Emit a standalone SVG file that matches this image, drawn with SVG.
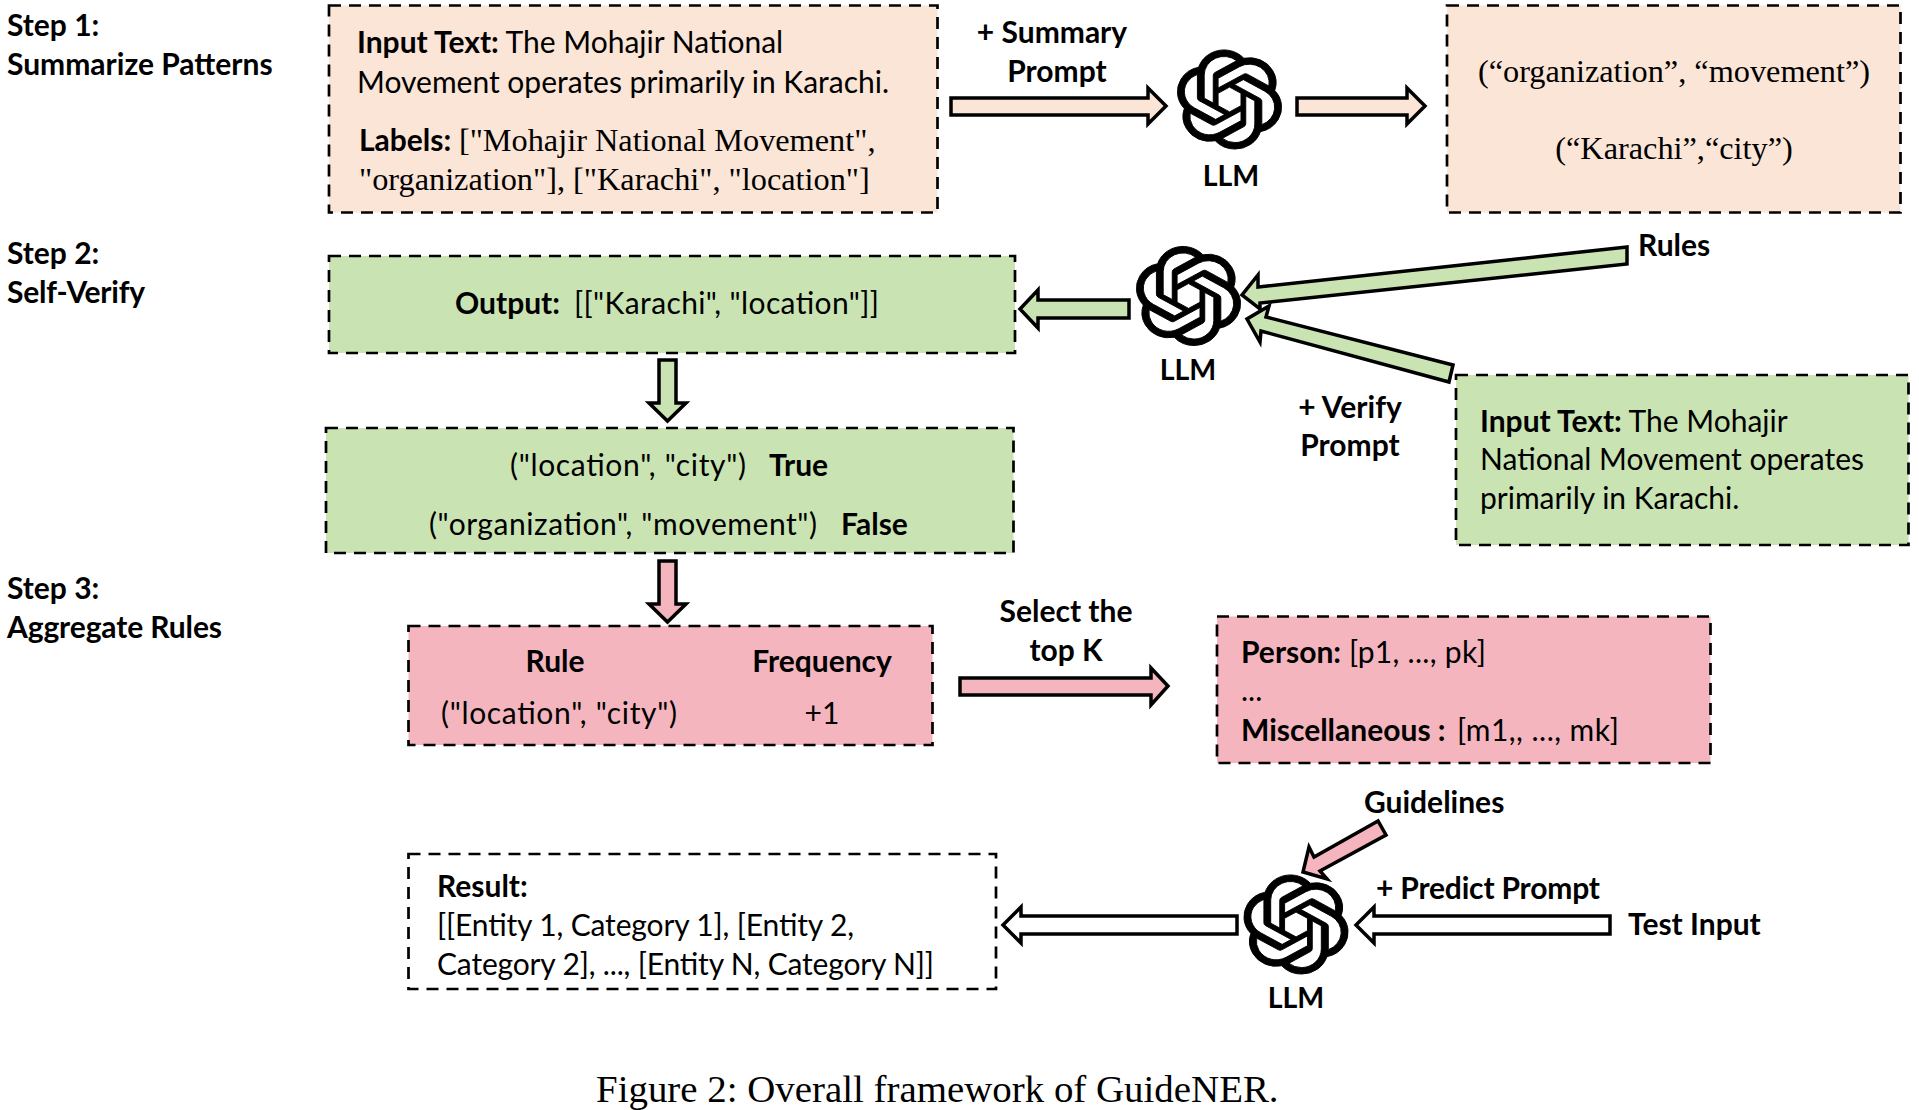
<svg xmlns="http://www.w3.org/2000/svg" width="1919" height="1110" viewBox="0 0 1919 1110">
<style>
text{font-family:"Lato","Carlito","Liberation Sans",sans-serif;font-size:30px;fill:#000}
.b{font-weight:700}
.t{font-family:"Liberation Serif","Times New Roman",serif;font-size:32.3px}
.box{stroke:#000;stroke-width:2.7;stroke-dasharray:12 8}
.o{fill:#FBE5D6}.g{fill:#C9E4B2}.p{fill:#F4B5BF}.w{fill:#fff}
.ar{stroke:#000;stroke-width:3.5;stroke-linejoin:miter}
.m{text-anchor:middle}
.llm{font-size:28.5px}
</style>
<defs>
<path id="logo" fill="#000" stroke="#000" stroke-width=".22" d="M22.2819 9.8211a5.9847 5.9847 0 0 0-.5157-4.9108 6.0462 6.0462 0 0 0-6.5098-2.9A6.0651 6.0651 0 0 0 4.9807 4.1818a5.9847 5.9847 0 0 0-3.9977 2.9 6.0462 6.0462 0 0 0 .7427 7.0966 5.98 5.98 0 0 0 .511 4.9107 6.051 6.051 0 0 0 6.5146 2.9001A5.9847 5.9847 0 0 0 13.2599 24a6.0557 6.0557 0 0 0 5.7718-4.2058 5.9894 5.9894 0 0 0 3.9977-2.9001 6.0557 6.0557 0 0 0-.7475-7.0729zm-9.022 12.6081a4.4755 4.4755 0 0 1-2.8764-1.0408l.1419-.0804 4.7783-2.7582a.7948.7948 0 0 0 .3927-.6813v-6.7369l2.02 1.1686a.071.071 0 0 1 .038.052v5.5826a4.504 4.504 0 0 1-4.4945 4.4944zm-9.6607-4.1254a4.4708 4.4708 0 0 1-.5346-3.0137l.142.0852 4.783 2.7582a.7712.7712 0 0 0 .7806 0l5.8428-3.3685v2.3324a.0804.0804 0 0 1-.0332.0615L9.74 19.9502a4.4992 4.4992 0 0 1-6.1408-1.6464zM2.3408 7.8956a4.485 4.485 0 0 1 2.3655-1.9728V11.6a.7664.7664 0 0 0 .3879.6765l5.8144 3.3543-2.0201 1.1685a.0757.0757 0 0 1-.071 0l-4.8303-2.7865A4.504 4.504 0 0 1 2.3408 7.872zm16.5963 3.8558L13.1038 8.364 15.1192 7.2a.0757.0757 0 0 1 .071 0l4.8303 2.7913a4.4944 4.4944 0 0 1-.6765 8.1042v-5.6772a.79.79 0 0 0-.407-.667zm2.0107-3.0231l-.142-.0852-4.7735-2.7818a.7759.7759 0 0 0-.7854 0L9.409 9.2297V6.8974a.0662.0662 0 0 1 .0284-.0615l4.8303-2.7866a4.4992 4.4992 0 0 1 6.6802 4.66zM8.3065 12.863l-2.02-1.1638a.0804.0804 0 0 1-.038-.0567V6.0742a4.4992 4.4992 0 0 1 7.3757-3.4537l-.142.0805L8.704 5.459a.7948.7948 0 0 0-.3927.6813zm1.0976-2.3654l2.602-1.4998 2.6069 1.4998v2.9994l-2.5974 1.4997-2.6067-1.4997Z"/>
</defs>
<g id="step-labels">
<text class="b" x="7" y="36">Step 1:</text>
<text class="b" x="7" y="75">Summarize Patterns</text>
<text class="b" x="7" y="264">Step 2:</text>
<text class="b" x="7" y="303" textLength="138">Self-Verify</text>
<text class="b" x="7" y="599">Step 3:</text>
<text class="b" x="7" y="638" textLength="215">Aggregate Rules</text>
</g>
<g id="connectors">
<polygon class="ar o" points="951,98 1148,98 1148,88 1166,106 1148,124 1148,115 951,115"/>
<polygon class="ar o" points="1297,98 1407,98 1407,88 1425,106 1407,124 1407,115 1297,115"/>
<polygon class="ar g" points="1129,300 1038,300 1038,290 1020,309 1038,328 1038,318 1129,318"/>
<polygon class="ar g" points="1627,247 1258,287 1258,275 1242,295 1260,309 1260,303 1627,264"/>
<polygon class="ar g" points="1453,365 1266,317 1269,306 1247,319 1260,342 1261,331 1449,382"/>
<polygon class="ar g" points="659,360 676,360 676,403 686,403 667.5,421 649,403 659,403"/>
<polygon class="ar p" points="659,561 676,561 676,604 686,604 667.5,622 649,604 659,604"/>
<polygon class="ar p" points="960,678 1151,678 1151,668 1168,686 1151,705 1151,695 960,695"/>
<polygon class="ar p" points="1378,821 1314,857 1309,847 1303,872 1327,879 1320,871 1386,835"/>
<polygon class="ar w" points="1237,916 1021,916 1021,907 1003,925 1021,943 1021,934 1237,934"/>
<polygon class="ar w" points="1610,916 1374,916 1374,907 1356,925 1374,943 1374,934 1610,934"/>
</g>
<g id="input-box">
<rect class="box o" x="329" y="5.5" width="608.5" height="207"/>
<text x="357" y="53"><tspan class="b">Input Text:</tspan> The Mohajir National</text>
<text x="357" y="93">Movement operates primarily in Karachi.</text>
<text x="359" y="151"><tspan class="b">Labels:</tspan> <tspan class="t">["Mohajir National Movement",</tspan></text>
<text class="t" x="359" y="190">"organization"], ["Karachi", "location"]</text>
</g>
<g id="llm-1">
<use href="#logo" transform="translate(1229.5 99.5) scale(4.4 4.13) translate(-12 -12)"/>
<text class="b m llm" x="1231" y="186">LLM</text>
</g>
<g id="summary-prompt">
<text class="b m" x="1052" y="43">+ Summary</text>
<text class="b m" x="1057" y="82">Prompt</text>
</g>
<g id="patterns-box">
<rect class="box o" x="1447" y="5.5" width="453.5" height="207"/>
<text class="t m" x="1674" y="82">(“organization”, “movement”)</text>
<text class="t m" x="1674" y="159">(“Karachi”,“city”)</text>
</g>
<g id="output-box">
<rect class="box g" x="329" y="256" width="686" height="97"/>
<text class="b" x="455" y="314">Output:</text>
<text x="574" y="314" textLength="305">[["Karachi", "location"]]</text>
</g>
<g id="llm-2">
<use href="#logo" transform="translate(1188.5 296) scale(4.4 4.13) translate(-12 -12)"/>
<text class="b m llm" x="1188" y="380">LLM</text>
</g>
<g id="rules-label"><text class="b" x="1638" y="256">Rules</text></g>
<g id="verify-prompt">
<text class="b m" x="1350" y="418">+ Verify</text>
<text class="b m" x="1350" y="456">Prompt</text>
</g>
<g id="verify-input-box">
<rect class="box g" x="1456" y="375" width="452.5" height="170"/>
<text x="1480" y="432"><tspan class="b">Input Text:</tspan> The Mohajir</text>
<text x="1480" y="470">National Movement operates</text>
<text x="1480" y="509">primarily in Karachi.</text>
</g>
<g id="verify-box">
<rect class="box g" x="326" y="428" width="687.5" height="125"/>
<text x="510" y="476" textLength="236">("location", "city")</text>
<text class="b" x="769" y="476">True</text>
<text x="429" y="535" textLength="388">("organization", "movement")</text>
<text class="b" x="841" y="535">False</text>
</g>
<g id="frequency-box">
<rect class="box p" x="408.5" y="626" width="524" height="119"/>
<text class="b m" x="555" y="672">Rule</text>
<text class="b m" x="822" y="672">Frequency</text>
<text x="441" y="724" textLength="236">("location", "city")</text>
<text class="m" x="822" y="724">+1</text>
</g>
<g id="select-top-k">
<text class="b m" x="1066" y="622">Select the</text>
<text class="b m" x="1066" y="661">top K</text>
</g>
<g id="guidelines-box">
<rect class="box p" x="1217" y="616.5" width="493.5" height="146.5"/>
<text class="b" x="1241" y="663">Person:</text>
<text x="1349" y="663" textLength="137">[p1, ..., pk]</text>
<text x="1241" y="701">...</text>
<text class="b" x="1241" y="741">Miscellaneous :</text>
<text x="1457" y="741" textLength="162">[m1,, ..., mk]</text>
</g>
<g id="guidelines-label"><text class="b" x="1364" y="813">Guidelines</text></g>
<g id="llm-3">
<use href="#logo" transform="translate(1296 924.5) scale(4.4 4.13) translate(-12 -12)"/>
<text class="b m llm" x="1296" y="1008">LLM</text>
</g>
<g id="predict-prompt"><text class="b" x="1376" y="899" textLength="224">+ Predict Prompt</text></g>
<g id="test-input"><text class="b" x="1628" y="935">Test Input</text></g>
<g id="result-box">
<rect class="box" fill="#fff" x="408.5" y="854" width="587.5" height="135"/>
<text class="b" x="437" y="897">Result:</text>
<text x="437" y="936" textLength="417">[[Entity 1, Category 1], [Entity 2,</text>
<text x="437" y="975" textLength="497">Category 2], ..., [Entity N, Category N]]</text>
</g>
<text class="t" x="596" y="1102" style="font-size:38.9px">Figure 2: Overall framework of GuideNER.</text>
</svg>
